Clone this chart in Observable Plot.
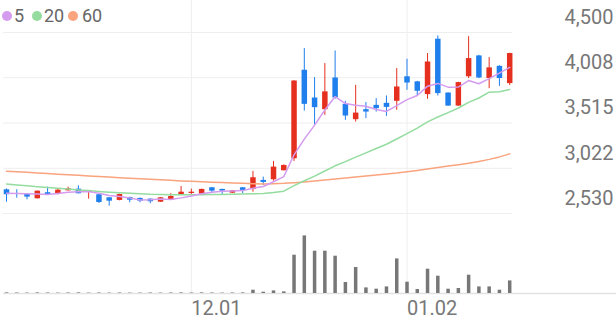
<!DOCTYPE html>
<html>
<head>
<meta charset="utf-8">
<script src="https://cdn.jsdelivr.net/npm/d3@7"></script>
<script src="https://cdn.jsdelivr.net/npm/@observablehq/plot@0.6"></script>
<style>
  html, body { margin: 0; padding: 0; background: #fff; }
  #wrap { position: relative; width: 616px; height: 321px; overflow: hidden; font-family: Roboto, sans-serif; }
  #wrap svg { position: absolute; left: 0; top: 0; }
  .dot { position: absolute; width: 10px; height: 10px; border-radius: 50%; top: 11px; }
  .lab { position: absolute; top: 7px; font-size: 18px; line-height: 18px; color: #666; }
</style>
</head>
<body>
<div id="wrap"></div>
<script>
// ---- data ----
const dates = ["11.07","11.08","11.09","11.10","11.11","11.14","11.15","11.16","11.17","11.18",
  "11.21","11.22","11.23","11.24","11.25","11.28","11.29","11.30","12.01","12.02",
  "12.05","12.06","12.07","12.08","12.09","12.12","12.13","12.14","12.15","12.16",
  "12.19","12.20","12.21","12.22","12.23","12.26","12.27","12.28","12.29","01.02",
  "01.03","01.04","01.05","01.06","01.09","01.10","01.11","01.12","01.13","01.16"];
const open = [2788,2748,2740,2690,2756,2737,2777,2795,2759,2734,
  2701,2672,2704,2694,2686,2653,2675,2734,2748,2740,
  2810,2792,2751,2810,2792,2890,2897,2995,3126,4089,
  3787,3660,4005,3718,3551,3660,3707,3729,3751,4018,
  3963,3824,4427,3841,3699,4018,4245,3999,4132,3944];
const high = [2797,2788,2743,2775,2817,2792,2817,2832,2777,2743,
  2704,2740,2708,2699,2690,2704,2745,2824,2795,2795,
  2813,2795,2781,2813,2988,2926,3097,3059,3976,4325,
  4009,4162,4299,3751,3925,3737,3780,3809,4107,4209,
  3969,4271,4463,3843,3958,4454,4252,4227,4138,4274];
const low = [2653,2697,2679,2688,2726,2732,2773,2743,2686,2639,
  2610,2668,2647,2647,2636,2650,2672,2726,2737,2737,
  2751,2737,2748,2745,2762,2835,2882,2993,3097,3645,
  3489,3598,3773,3544,3525,3562,3634,3587,3653,3871,
  3809,3773,3809,3696,3696,3999,3998,3889,3914,3922];
const close = [2734,2737,2708,2773,2737,2784,2799,2745,2773,2650,
  2664,2737,2675,2664,2658,2701,2715,2762,2762,2792,
  2773,2773,2777,2781,2919,2868,3035,3053,3972,3718,
  3682,3854,3787,3591,3623,3634,3671,3685,3907,3950,
  3860,4179,3835,3699,3955,4216,4005,4115,3999,4271];
const volume = [60,50,40,60,50,40,50,60,40,50,
  40,50,40,40,50,40,50,60,50,60,
  50,40,50,60,330,130,260,160,3830,5760,
  4230,4230,3730,1100,2600,560,430,660,3460,1130,
  400,2430,1730,430,500,1830,660,660,330,1260];
const ma5 = [2750,2748,2745,2742,2738,2748,2760,2768,2768,2750,
  2726,2714,2700,2678,2680,2687,2683,2700,2720,2746,
  2761,2772,2775,2779,2805,2824,2876,2931,3169,3339,
  3492,3656,3803,3726,3707,3698,3661,3641,3704,3769,
  3815,3916,3946,3905,3906,3977,3942,3998,4058,4121];
const ma20 = [2852,2841,2832,2822,2813,2805,2796,2787,2779,2770,
  2762,2756,2750,2745,2739,2737,2735,2734,2734,2735,
  2736,2737,2739,2741,2744,2748,2758,2773,2833,2886,
  2937,2993,3049,3095,3143,3190,3238,3284,3341,3400,
  3460,3528,3580,3628,3678,3740,3787,3850,3856,3880];
const ma60 = [2991,2985,2978,2971,2965,2958,2952,2945,2939,2932,
  2926,2919,2913,2907,2902,2896,2891,2885,2880,2876,
  2871,2867,2862,2858,2854,2852,2855,2859,2866,2873,
  2884,2895,2906,2917,2928,2939,2950,2961,2971,2985,
  2999,3015,3031,3046,3061,3077,3097,3119,3146,3179];
const yTicks = [4500, 4008, 3515, 3022, 2530];
const xTickDates = ["12.01", "01.02"];
const legendItems = ["5", "20", "60"];

// ---- build ----
const rows = dates.map((d, i) => ({
  i, date: d, open: open[i], high: high[i], low: low[i], close: close[i],
  volume: volume[i], ma5: ma5[i], ma20: ma20[i], ma60: ma60[i]
}));
const up = rows.filter(d => d.close >= d.open);
const down = rows.filter(d => d.close < d.open);
const xTickIdx = xTickDates.map(t => dates.indexOf(t));

const RED = "#e5301f", BLUE = "#1f7fec";
const C5 = "#d49bef", C20 = "#94dc9f", C60 = "#f9a47e";
const X = {domain: [0, 49], range: [6, 509.2], axis: null};

const price = Plot.plot({
  width: 616, height: 321,
  marginTop: 0, marginBottom: 28, marginLeft: 3, marginRight: 104,
  style: {background: "transparent", fontFamily: "Roboto, sans-serif"},
  x: X,
  y: {domain: [2530, 4500], range: [213, 32], axis: null},
  marks: [
    Plot.ruleY(yTicks, {stroke: "#eeeeee", strokeWidth: 1}),
    Plot.ruleX(xTickIdx, {stroke: "#eeeeee", strokeWidth: 1}),
    Plot.axisY({anchor: "right", ticks: yTicks, tickSize: 0, tickPadding: 0,
      tickFormat: d3.format(","), textAnchor: "end", dx: 101, dy: -15,
      fontSize: 20, fill: "#777", label: null}),
    Plot.ruleX(up, {x: "i", y1: "low", y2: "high", stroke: RED, strokeWidth: 1}),
    Plot.ruleX(down, {x: "i", y1: "low", y2: "high", stroke: BLUE, strokeWidth: 1}),
    Plot.ruleX(up, {x: "i", y1: "open", y2: "close", stroke: RED, strokeWidth: 5.5}),
    Plot.ruleX(down, {x: "i", y1: "open", y2: "close", stroke: BLUE, strokeWidth: 5.5}),
    Plot.line(rows, {x: "i", y: "ma60", stroke: C60, strokeWidth: 1.5}),
    Plot.line(rows, {x: "i", y: "ma20", stroke: C20, strokeWidth: 1.5}),
    Plot.line(rows, {x: "i", y: "ma5", stroke: C5, strokeWidth: 1.5})
  ]
});

const vol = Plot.plot({
  width: 616, height: 321,
  marginTop: 0, marginBottom: 28, marginLeft: 3, marginRight: 0,
  style: {background: "transparent", fontFamily: "Roboto, sans-serif"},
  x: X,
  y: {domain: [0, 6000], range: [293, 233], axis: null},
  marks: [
    Plot.ruleY([0], {stroke: "#e2e2e2", strokeWidth: 1.5}),
    Plot.ruleX(rows, {x: "i", y1: 0, y2: "volume", stroke: "#777", strokeWidth: 3.5}),
    Plot.axisX({anchor: "bottom", ticks: xTickIdx, tickFormat: i => dates[i],
      tickSize: 0, tickPadding: 7, textAnchor: "start", fontSize: 20,
      fill: "#777", label: null})
  ]
});

const wrap = document.getElementById("wrap");
wrap.appendChild(price);
wrap.appendChild(vol);

// legend
const legendColors = [C5, C20, C60];
const dotLeft = [2, 32, 68];
const labLeft = [14, 44, 82];
legendItems.forEach((t, k) => {
  const dot = document.createElement("div");
  dot.className = "dot";
  dot.style.left = dotLeft[k] + "px";
  dot.style.background = legendColors[k];
  wrap.appendChild(dot);
  const lab = document.createElement("div");
  lab.className = "lab";
  lab.style.left = labLeft[k] + "px";
  lab.textContent = t;
  wrap.appendChild(lab);
});
</script>
</body>
</html>
